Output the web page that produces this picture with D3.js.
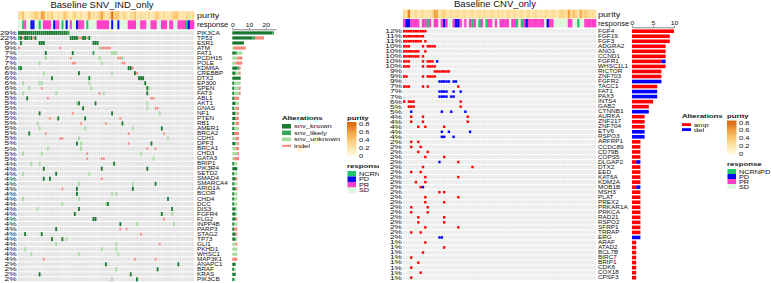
<!DOCTYPE html>
<html>
<head>
<meta charset="utf-8">
<script src="https://cdn.jsdelivr.net/npm/d3@7"></script>
<style>
  body { margin: 0; background: #fff; }
  svg { display: block; }
  text { font-family: "Liberation Sans", Arial, sans-serif; fill: #111; }
</style>
</head>
<body>
<div id="chart"></div>
<script>
// ---------------- SNV / indel panel ----------------
var snvGenes = ["PIK3CA","TP53","ESR1","ATM","FAT1","PCDH15","POLE","KDM6A","CREBBP","DTX2",
  "EP300","SPEN","FAT3","ABL1","AKT1","GNAS","NF1","PTEN","RB1","AMER1",
  "BRCA2","CDH1","DPF3","BRCA1","CHD3","GATA3","BRIP1","PIK3R4","SETD2","SMAD4",
  "SMARCA4","ARID1A","BCOR","CHD4","DCC","DIS3","FGFR4","FLG2","INPP4B","PARP3",
  "STAG2","TP73","GLI1","PKHD1","WHSC1","MAP3K1","ANAPC1","BRAF","KRAS","PIK3CB"];

var snvPct = [29,22,9,9,7,7,7,6,6,6, 6,6,6,5,5,5,5,5,5,5, 5,5,5,5,5,5,4,4,4,4,
  4,4,4,4,4,4,4,4,4,4, 4,4,4,4,4,4,2,2,2,2];

// sample column + type (K snv_known, L snv_likely, U snv_unknown, I indel)
var snvAlts = [
  "0-23K 24L",
  "0L 1K 2I 3K 4K 5L 6K 7I 8K 25-28K 29I 30I 31K 32K 33I 34K",
  "1K 10K 11K 12K 36K 37K 38K",
  "0I 20I 39U 40I 41I 42I 43I 44I",
  "13K 26K 36L 45U 46U 47U",
  "13U 25I 39U 48I 49I 50U",
  "10U 26I 27I 40U 50I 51I",
  "0L 1K 53K 54K 55I",
  "12U 29K 45U 56K 57I",
  "16K 34K 58K 59K 60K",
  "2U 10U 11U 34U 61K",
  "5U 11I 35U 62K 63U",
  "2U 18U 39I 41U 62K",
  "4K 14I 64I 65I",
  "28U 29K 37K 62U",
  "31K 62U 66I 67I",
  "10K 26I 45K 68U",
  "15I 19K 32K 49I",
  "9U 30I 42I 50K",
  "10U 32U 55U 69K",
  "5K 13I 53I 70I",
  "20I 21I 29U 72U",
  "28K 30U 53I 64K",
  "14U 30U 62I 66I",
  "2U 11U 33I 59U",
  "33I 40I 41I 65U",
  "6U 10U 46K",
  "12K 40K 62K",
  "2U 18K 34U",
  "12K 15K 40I",
  "29U 55U 66K",
  "21I 28K 55K",
  "28K 45U 47U",
  "2U 29U 72K",
  "21U 42U 43K",
  "9U 29K 74K",
  "27K 69K 74U",
  "36K 37K 70I",
  "49K 57U 75U",
  "18K 49I 52I",
  "3K 11K 59I",
  "16K 21K 23U",
  "18U 47U 68I",
  "3U 40U 47U",
  "6U 29U 48U",
  "12I 56I 66I",
  "42K 77K",
  "47U 67K",
  "10K 54K",
  "45U 57K"
];

// N NCRNPD, D PD, R PR, S SD  (one letter per sample)
var snvResponse = "SSNRSSDDSS" + "NSRRRRSDRR" + "SNSDSRSSDR" + "RRSNSSSSRR" + "RRRRSDSSDS" +
  "SSSRRRRSSR" + "RRSSRRRSSR" + "RRSRRSSRRR" + "RNDRR";

var snvPurity = [.25,.3,.45,.2,.15,.2,.25,.3,.4,.35, .2,.6,.55,.2,.3,.25,.4,.2,.15,.3,
  .2,.25,.45,.3,.2,.15,.25,.35,.2,.2, .3,.15,.2,.25,.55,.2,.3,.2,.25,.35,
  .6,.3,.2,.25,.3,.8,.35,.45,.4,.2, .25,.35,.2,.15,.3,.25,.45,.2,.2,.3,
  .2,.25,.2,.3,.15,.2,.35,.4,.25,.2, .3,.2,.25,.2,.35,.4,.45,.3,.2,.25,
  .2,.3,.25,.2,.3];

// ---------------- CNV panel ----------------
var cnvGenes = ["FGF4","FGF19","FGF3","ADGRA2","ANO1","CCND1","FGFR1","WHSC1L1","RICTOR","ZNF703",
  "FGFR2","TACC1","FAT1","PAX3","INTS4","GAB2","CTNNB1","AURKA","ZNF217","ZNF704",
  "ETV6","RSPO3","ARFRP1","CCDC89","CD79B","COPS5","DLGAP2","DTX2","EED","KAT6A",
  "KDM2A","MOB1B","MSH3","PLAT","PREX2","PRKAR1A","PRKCA","RAD21","RSPO2","SFRP1",
  "TRRAP","ERG","ARAF","ATAD2","BCL7B","BIRC7","BRIP1","CDK6","COX18","CPSF3"];

var cnvPct = [12,11,11,10,10,10,10,10,9,9, 9,7,7,7,6,5,5,4,4,4, 4,4,2,2,2,2,2,2,2,2,
  2,2,2,2,2,2,2,2,2,2, 2,2,1,1,1,1,1,1,1,1];

// sample column + type (A amp, D del)
var cnvAlts = [
  "0-9A", "0-8A", "0-7A 9A", "0-2A 8A 10-13A", "0-6A 9A",
  "0-6A 8A", "0-2A 8A 10-12A 14D", "0-2A 8A 10-13A", "13-19A", "0-1A 8A 10-13A",
  "15-19D 21-22D", "0-2A 8A 10A 23A", "15-18D 21D 24D", "15-18D 20-21D", "0A 2-4A 24A",
  "2-4A 24A", "3D 16D 20D 26D", "3A 8A 27A", "3A 8A 27A", "6A 9A 17A",
  "16D 19D 28D", "16-17D 21D", "3A 6A", "3A 7A", "6A 10A",
  "9A 17A", "15D 23A", "8A 29A", "3A 7A", "9A 23A",
  "5A 9A", "7A 8D", "15A 17A", "9A 23A", "9A 17A",
  "3A 10A", "3A 10A", "6A 17A", "6A 17A", "9A 23A",
  "3A 7A", "15-16D", "9A", "17A", "8A",
  "3A", "6A", "3A", "7A", "3A"
];

var cnvResponse = "RDDRRRRSRR" + "NRSRRSRDRS" + "SRDDRSRSRN" + "RSNRSNRRSR" + "SRRRRSRRNS" +
  "NRDRRRRRRR" + "SDRRSSSSSS" + "RRSSNSSRRR" + "RR";

var cnvPurity = [.3,.25,.7,.25,.2,.3,.2,.25,.3,.2, .25,.2,.3,.6,.55,.2,.3,.4,.25,.2,
  .3,.2,.25,.3,.2,.25,.3,.2,.25,.3, .2,.25,.3,.2,.3,.25,.2,.3,.25,.2,
  .3,.2,.25,.2,.3,.25,.2,.3,.2,.25, .3,.2,.25,.3,.2,.25,.3,.2,.25,.2,
  .3,.25,.2,.3,.25,.2,.3,.35,.3,.25, .6,.3,.45,.3,.25,.55,.3,.4,.3,.25,
  .3,.25];

var respLevels = ["N","D","R","S"];
var respNames = {N: "NCRNPD", D: "PD", R: "PR", S: "SD"};
var purityTicks = [0, 0.2, 0.4, 0.6, 0.8];

// ---------------- colours ----------------
var snvColor = {K: "#17792f", L: "#38a659", U: "#a6dba0", I: "#f8877b"};
var cnvColor = {A: "#ff0000", D: "#0000ff"};
var respColor = {N: "#1fc66a", D: "#0a0af5", R: "#ff3fc8", S: "#ddf8dd"};
var purityColor = d3.scaleLinear()
  .domain([0, 0.2, 0.4, 0.6, 0.8])
  .range(["#fffbe8", "#fde7ae", "#fbcb74", "#f2a242", "#dc6a12"])
  .clamp(true);

var svg = d3.select("#chart").append("svg")
  .attr("width", 772)
  .attr("height", 283);

var defs = svg.append("defs");
defs.append("clipPath").attr("id", "clipLeft")
  .append("rect").attr("x", 0).attr("y", 0).attr("width", 379).attr("height", 283);

var grad = defs.append("linearGradient").attr("id", "purGrad")
  .attr("x1", 0).attr("y1", 1).attr("x2", 0).attr("y2", 0);
d3.range(0, 1.0001, 0.1).forEach(function(t) {
  grad.append("stop").attr("offset", t).attr("stop-color", purityColor(t * 0.85));
});

// labels in the figure are squeezed vertically, so draw them stretched in x
function label(g, x, y, str, size, sx, anchor, weight) {
  return g.append("text")
    .attr("transform", "translate(" + x + "," + y + ") scale(" + sx + ",1)")
    .attr("text-anchor", anchor || "start")
    .style("font-size", size + "px")
    .style("font-weight", weight || "normal")
    .text(str);
}

function parseAlts(s) {
  var out = [];
  s.split(" ").forEach(function(tok) {
    var m = tok.match(/^(\d+)(?:-(\d+))?([A-Z])$/);
    var a = +m[1], b = m[2] ? +m[2] : a;
    for (var c = a; c <= b; c++) out.push({col: c, type: m[3]});
  });
  return out;
}

function drawPanel(g, p) {
  var nS = p.response.length;
  var x = d3.scaleBand().domain(d3.range(nS)).range([p.hx0, p.hx1]);
  var y = d3.scaleBand().domain(p.genes).range([p.hy0, p.hy1]);
  var bw = x.bandwidth(), rh = y.bandwidth();

  label(g, p.titleX, p.titleY, p.title, 8.5, 1.12, "middle");

  // purity + response annotation
  g.append("g").selectAll("rect").data(p.purity).enter().append("rect")
    .attr("x", function(d, i) { return x(i); })
    .attr("y", p.purY[0])
    .attr("width", bw + 0.3)
    .attr("height", p.purY[1] - p.purY[0])
    .attr("fill", function(d) { return purityColor(d); });

  g.append("g").selectAll("rect").data(p.response.split("")).enter().append("rect")
    .attr("x", function(d, i) { return x(i); })
    .attr("y", p.respY[0])
    .attr("width", bw + 0.3)
    .attr("height", p.respY[1] - p.respY[0])
    .attr("fill", function(d) { return respColor[d]; });

  label(g, p.labX, p.purY[1] - 1.8, "purity", 7, 1.3);
  label(g, p.labX, p.respY[1] - 1.8, "response", 6.8, 1.12);

  // background grid
  g.append("g").selectAll("rect").data(d3.cross(p.genes, d3.range(nS))).enter().append("rect")
    .attr("x", function(d) { return x(d[1]); })
    .attr("y", function(d) { return y(d[0]) + 0.5; })
    .attr("width", bw - p.colGap)
    .attr("height", rh - 1)
    .attr("fill", p.bg);

  // alterations
  var cells = [];
  p.genes.forEach(function(gene, gi) {
    parseAlts(p.alts[gi]).forEach(function(e) {
      cells.push({gene: gene, col: e.col, type: e.type});
    });
  });
  g.append("g").selectAll("rect").data(cells).enter().append("rect")
    .attr("x", function(d) { return x(d.col); })
    .attr("y", function(d) {
      var hh = (rh - 1) * p.altH[d.type];
      return y(d.gene) + rh / 2 - hh / 2;
    })
    .attr("width", bw - p.colGap)
    .attr("height", function(d) { return (rh - 1) * p.altH[d.type]; })
    .attr("fill", function(d) { return p.colors[d.type]; });

  // percentages + gene names
  p.genes.forEach(function(gene, gi) {
    var cy = y(gene) + rh / 2;
    label(g, p.pctX, cy + 1.9, p.pct[gi] + "%", 5.4, 1.55, "end");
    label(g, p.labX, cy + 1.6, gene, 4.5, 1.42);
  });

  // stacked bar chart of alteration counts
  var xb = d3.scaleLinear().domain([0, p.barMax]).range([p.bx0, p.bx1]);
  var bars = [];
  p.genes.forEach(function(gene, gi) {
    var ev = parseAlts(p.alts[gi]);
    var acc = 0;
    p.types.forEach(function(t) {
      var n = ev.filter(function(e) { return e.type === t; }).length;
      if (n > 0) bars.push({gene: gene, type: t, x0: acc, x1: acc + n});
      acc += n;
    });
  });
  g.append("g").selectAll("rect").data(bars).enter().append("rect")
    .attr("x", function(d) { return xb(d.x0); })
    .attr("y", function(d) { return y(d.gene) + rh / 2 - p.barH / 2; })
    .attr("width", function(d) { return xb(d.x1) - xb(d.x0); })
    .attr("height", p.barH)
    .attr("fill", function(d) { return p.colors[d.type]; });

  var ax = g.append("g")
    .attr("transform", "translate(0," + p.axisY + ")")
    .call(d3.axisTop(xb).tickValues(p.barTicks).tickSize(1.5).tickSizeOuter(0).tickPadding(1));
  ax.select(".domain").attr("stroke", "#333").attr("stroke-width", 0.6);
  ax.selectAll(".tick line").attr("stroke", "#333").attr("stroke-width", 0.6);
  ax.selectAll("text")
    .attr("transform", "scale(1.36,1)")
    .style("font-size", "5px")
    .style("font-family", "'Liberation Sans', Arial, sans-serif");
}

function drawLegends(g, L) {
  // alterations
  label(g, L.altX, L.altTitleY, "Alterations", 6, 1.3, "start", "bold");
  L.altItems.forEach(function(it, i) {
    var cy = L.altY0 + i * L.altStep;
    g.append("rect")
      .attr("x", L.altX).attr("y", cy - it.h / 2)
      .attr("width", 9).attr("height", it.h)
      .attr("fill", it.color);
    label(g, L.altX + 12, cy + 2, it.name, 6.2, 1.22);
  });

  // purity colour bar
  label(g, L.purX, L.altTitleY, "purity", 6, 1.3, "start", "bold");
  var yp = d3.scaleLinear().domain([0, 0.8]).range([L.pur0, L.pur8]);
  g.append("rect")
    .attr("x", L.purX).attr("y", L.pur8 - 2)
    .attr("width", 9.5).attr("height", L.pur0 - L.pur8 + 2.5)
    .attr("fill", "url(#purGrad)");
  purityTicks.forEach(function(t) {
    label(g, L.purX + 12, yp(t) + 2, t === 0 ? "0" : String(t), 6.2, 1.22);
  });

  // response
  label(g, L.purX, L.respTitleY, "response", 6, 1.3, "start", "bold");
  respLevels.forEach(function(r, i) {
    var y0 = L.respY0 + i * L.respStep;
    g.append("rect")
      .attr("x", L.purX + 0.5).attr("y", y0)
      .attr("width", 8.5).attr("height", L.respStep)
      .attr("fill", respColor[r]);
    label(g, L.purX + 12, y0 + L.respStep / 2 + 2, respNames[r], 6.2, 1.18);
  });
}

// ---- left panel ----
var left = svg.append("g").attr("clip-path", "url(#clipLeft)");
drawPanel(left, {
  title: "Baseline SNV_IND_only", titleX: 102, titleY: 7.8,
  genes: snvGenes, pct: snvPct, alts: snvAlts, response: snvResponse, purity: snvPurity,
  hx0: 18, hx1: 194, hy0: 30.4, hy1: 281.9,
  purY: [11.3, 19.8], respY: [20.3, 29.2],
  labX: 197, pctX: 16.7,
  bg: "#e3e3e3", colGap: 0.25,
  colors: snvColor, types: ["K", "L", "U", "I"],
  altH: {K: 1, L: 1, U: 1, I: 0.6},
  bx0: 232.3, bx1: 275.7, barMax: 26, barTicks: [0, 10, 20], barH: 3.2, axisY: 29.3
});
drawLegends(left, {
  altX: 282, altTitleY: 120,
  altY0: 126.3, altStep: 6.5,
  altItems: [
    {name: "snv_known", color: snvColor.K, h: 4.5},
    {name: "snv_likely", color: snvColor.L, h: 4.5},
    {name: "snv_unknown", color: snvColor.U, h: 3.5},
    {name: "indel", color: snvColor.I, h: 2}
  ],
  purX: 347, pur0: 156, pur8: 124,
  respTitleY: 167.5, respY0: 171, respStep: 5.5
});

// ---- right panel ----
var right = svg.append("g");
drawPanel(right, {
  title: "Baseline CNV_only", titleX: 495, titleY: 7.3,
  genes: cnvGenes, pct: cnvPct, alts: cnvAlts, response: cnvResponse, purity: cnvPurity,
  hx0: 403, hx1: 596, hy0: 28.7, hy1: 280.2,
  purY: [9.7, 18.4], respY: [19, 27.4],
  labX: 598, pctX: 402,
  bg: "#ededed", colGap: 0,
  colors: cnvColor, types: ["A", "D"],
  altH: {A: 0.62, D: 0.62},
  bx0: 632, bx1: 674, barMax: 10, barTicks: [0, 5, 10], barH: 3.6, axisY: 27.3
});
drawLegends(right, {
  altX: 682, altTitleY: 118,
  altY0: 124.6, altStep: 5,
  altItems: [
    {name: "amp", color: cnvColor.A, h: 2.8},
    {name: "del", color: cnvColor.D, h: 2.8}
  ],
  purX: 727, pur0: 154, pur8: 122.5,
  respTitleY: 166, respY0: 169, respStep: 5
});
</script>
</body>
</html>
